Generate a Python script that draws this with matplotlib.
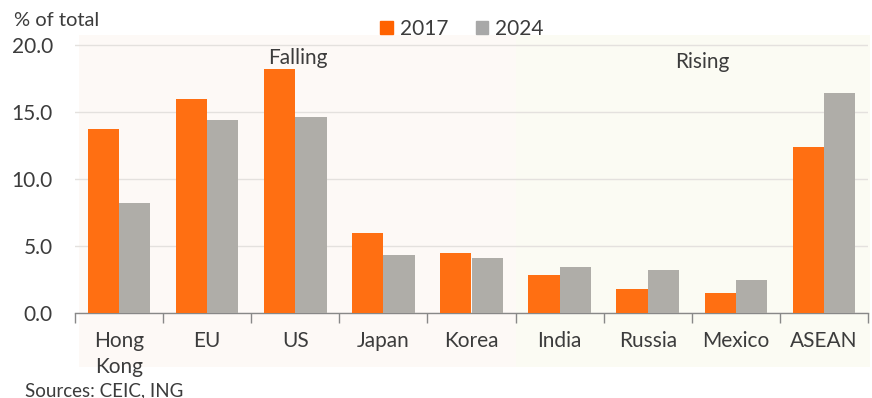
import matplotlib
matplotlib.use("Agg")
import matplotlib.pyplot as plt
from matplotlib.patches import Rectangle
import matplotlib.transforms as mtransforms
import numpy as np

categories = ["Hong\nKong", "EU", "US", "Japan", "Korea", "India", "Russia", "Mexico", "ASEAN"]
values_2017 = [13.7, 16.0, 18.2, 6.0, 4.5, 2.8, 1.8, 1.5, 12.4]
values_2024 = [8.2, 14.4, 14.6, 4.3, 4.1, 3.4, 3.2, 2.5, 16.4]
series_names = ["2017", "2024"]
yticks = [0.0, 5.0, 10.0, 15.0, 20.0]

plt.rcParams['font.family'] = ['Lato', 'DejaVu Sans']

orange = "#FF6F12"
grey = "#AFADA8"
text_col = "#3C3C3C"

fig = plt.figure(figsize=(8.72, 3.98), dpi=100)
ax = fig.add_axes([75/872, 1-313/398, (868-75)/872, (313-35)/398])

x = np.arange(len(categories))
w = 0.355
ax.bar(x - w/2, values_2017, w, color=orange, zorder=3, label=series_names[0])
ax.bar(x + w/2, values_2024, w, color=grey, zorder=3, label=series_names[1])

ax.set_xlim(-0.5, len(categories) - 0.5)
ax.set_ylim(0, 20.75)

# background regions
trans = mtransforms.blended_transform_factory(ax.transData, ax.transAxes)
ybot = (313-367)/(313-35)
ax.add_patch(Rectangle((-0.45, ybot), 4.95, 1 - ybot, transform=trans,
                       facecolor="#FDF9F6", edgecolor="none", zorder=0, clip_on=False))
ax.add_patch(Rectangle((4.5, ybot), 4.02, 1 - ybot, transform=trans,
                       facecolor="#FBFBF3", edgecolor="none", zorder=0, clip_on=False))
ax.set_facecolor("none")

ax.text(2.03, 19.0, "Falling", ha="center", va="center", fontsize=15, color=text_col, zorder=4)
ax.text(6.62, 18.7, "Rising", ha="center", va="center", fontsize=15, color=text_col, zorder=4)

ax.set_yticks(yticks)
ax.set_yticklabels([f"{v:.1f}" for v in yticks])
ax.yaxis.grid(True, color="#E4E1DE", linewidth=1, zorder=1)
ax.tick_params(axis="y", length=0, pad=16, labelsize=15, labelcolor=text_col)

ax.set_xticks(x)
ax.set_xticklabels(categories)
ax.set_xticks(np.arange(-0.5, len(categories), 1.0), minor=True)
ax.tick_params(axis="x", which="major", length=0, pad=13, labelsize=15, labelcolor=text_col)
ax.tick_params(axis="x", which="minor", length=7, width=1, color="#888888", direction="out")
for lbl in ax.get_xticklabels():
    lbl.set_linespacing(1.4)

for s in ["top", "right", "left"]:
    ax.spines[s].set_visible(False)
ax.spines["bottom"].set_color("#888888")
ax.spines["bottom"].set_linewidth(1)

fig.text(14/872, 1-20/398, "% of total", fontsize=14.5, color=text_col, ha="left", va="center")
fig.text(25/872, 1-391/398, "Sources: CEIC, ING", fontsize=13.5, color=text_col, ha="left", va="center")

leg = fig.legend(handles=[Rectangle((0, 0), 1, 1, color="#FF6200"), Rectangle((0, 0), 1, 1, color="#A8A8A8")],
                 labels=series_names, loc="center", bbox_to_anchor=(462/872, 1-29/398), ncol=2,
                 frameon=False, fontsize=15, handlelength=0.6, handleheight=0.6,
                 handletextpad=0.35, columnspacing=1.3, labelcolor=text_col)

fig.savefig("out.png", dpi=100, facecolor="white")
